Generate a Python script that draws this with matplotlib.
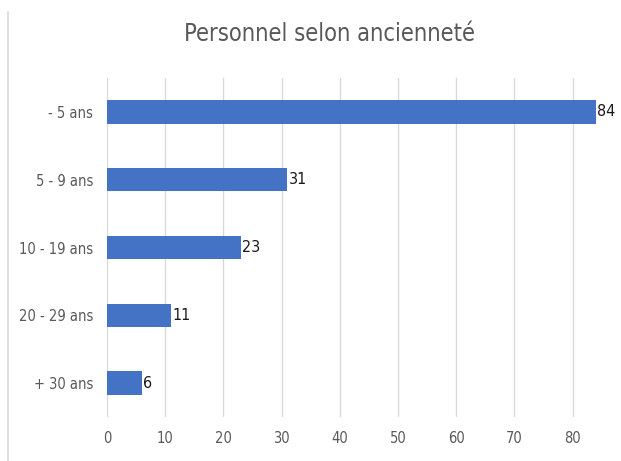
import matplotlib.pyplot as plt
from matplotlib.lines import Line2D

# Data
categories = ['- 5 ans', '5 - 9 ans', '10 - 19 ans', '20 - 29 ans', '+ 30 ans']
values = [84, 31, 23, 11, 6]
xticks = [0, 10, 20, 30, 40, 50, 60, 70, 80]

plt.rcParams['font.family'] = ['DejaVu Sans']
plt.rcParams['font.stretch'] = 'condensed'

W, H = 621, 461
fig = plt.figure(figsize=(W / 100, H / 100), dpi=100)
fig.patch.set_facecolor('white')

# axes: x from 107px, y from 78px to 417px
ax = fig.add_axes([107 / W, 1 - 417 / H, 1 - 107 / W, (417 - 78) / H])
ax.barh(range(len(categories)), values, height=0.345, color='#4472C4', zorder=3)
ax.set_ylim(len(categories) - 0.5, -0.5)
ax.set_xlim(0, (W - 107) / 5.82)
ax.set_xticks(xticks)
ax.set_yticks(range(len(categories)))
ax.set_yticklabels(categories)
ax.grid(axis='x', color='#d9d9d9', linewidth=1, zorder=0)
ax.tick_params(axis='both', length=0, labelsize=10.5, labelcolor='#595959')
ax.tick_params(axis='y', pad=10)
ax.tick_params(axis='x', pad=10)
for s in ax.spines.values():
    s.set_visible(False)

for i, v in enumerate(values):
    ax.text(v + 0.2, i, str(v), va='center', ha='left', fontsize=11.5, color='#1a1a1a', zorder=4)

fig.text(0.53, 1 - 34 / H, 'Personnel selon ancienneté', ha='center', va='center',
         fontsize=17, color='#595959')

# left border line of the chart area
fig.add_artist(Line2D([8 / W, 8 / W], [0, 1 - 12 / H], color='#d9d9d9', linewidth=1.2,
                      transform=fig.transFigure))

fig.savefig('out.png', dpi=100, facecolor='white')
